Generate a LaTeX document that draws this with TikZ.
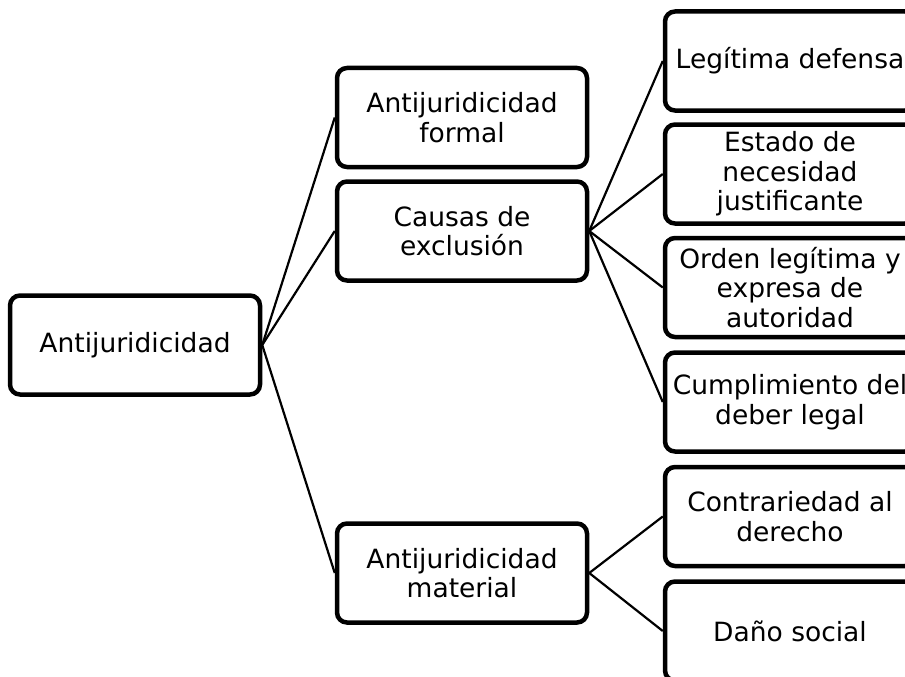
\documentclass[tikz,border=0pt]{standalone}
\usepackage{fontspec}
\setmainfont{DejaVu Sans}
\begin{document}
\begin{tikzpicture}[x=1pt,y=-1pt,
  box/.style={draw=black, line width=4.5pt, rounded corners=10pt, fill=white,
    minimum width=250pt, minimum height=99pt, inner sep=0pt, align=center,
    font=\fontsize{26.5}{29.5}\selectfont},
  link/.style={draw=black, line width=2.2pt}]
\clip (0,0) rectangle (905,677);
\node[box] (root) at (135,345) {Antijuridicidad};
\node[box] (formal) at (462,117.5) {Antijuridicidad\\formal};
\node[box] (causas) at (462,231) {Causas de\\exclusión};
\node[box] (material) at (462,573) {Antijuridicidad\\material};
\node[box] (legit) at (790,61) {Legítima defensa};
\node[box] (estado) at (790,174) {Estado de\\necesidad\\justificante};
\node[box] (orden) at (790,287.5) {Orden legítima y\\expresa de\\autoridad};
\node[box] (cumpl) at (790,402) {Cumplimiento del\\deber legal};
\node[box] (contr) at (790,516.5) {Contrariedad al\\derecho};
\node[box] (dano) at (790,631) {Daño social};
\draw[link] (root.east) -- (formal.west);
\draw[link] (root.east) -- (causas.west);
\draw[link] (root.east) -- (material.west);
\draw[link] (causas.east) -- (legit.west);
\draw[link] (causas.east) -- (estado.west);
\draw[link] (causas.east) -- (orden.west);
\draw[link] (causas.east) -- (cumpl.west);
\draw[link] (material.east) -- (contr.west);
\draw[link] (material.east) -- (dano.west);
\end{tikzpicture}
\end{document}
